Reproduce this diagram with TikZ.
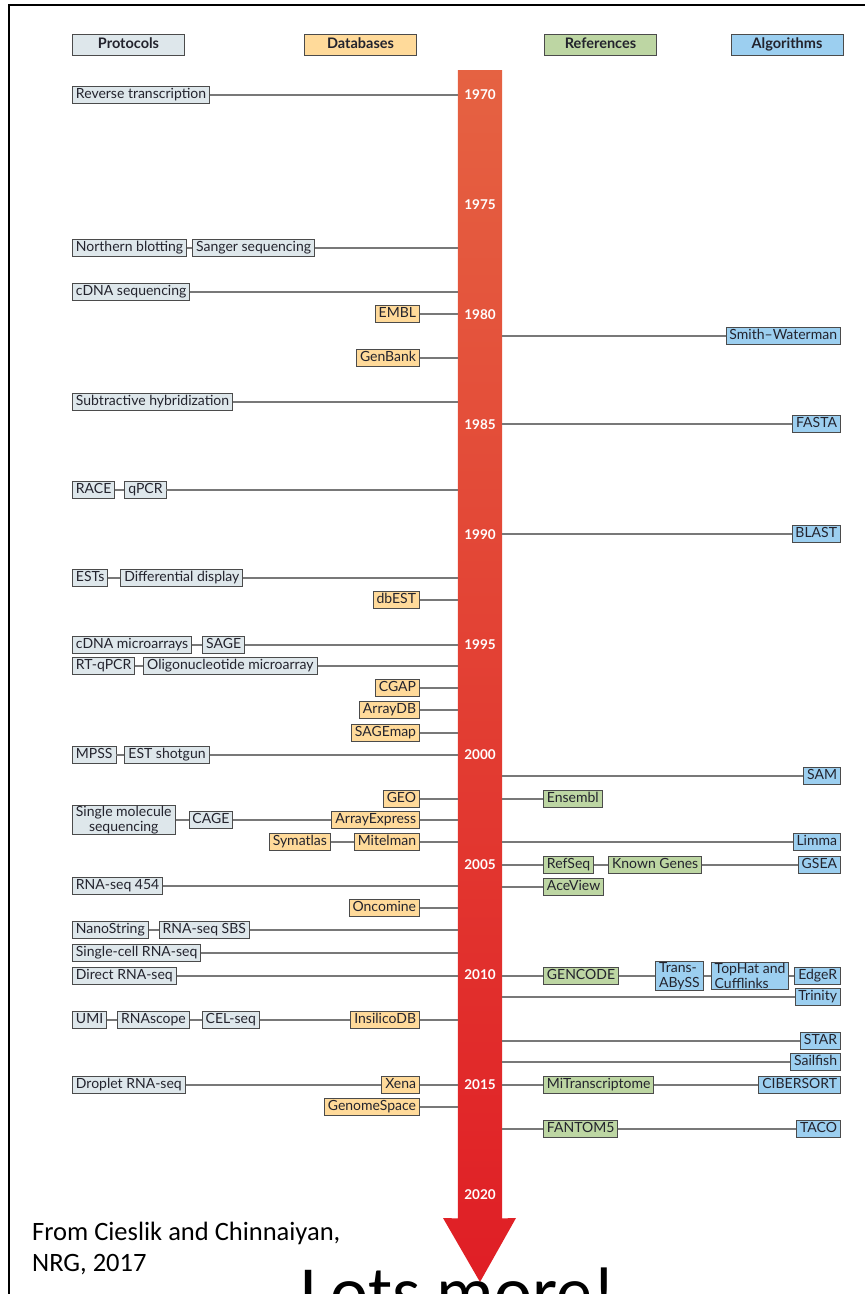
\documentclass[tikz,border=0pt]{standalone}
\usepackage{fontspec}
\setmainfont{Lato}
\newfontfamily\notefont{Carlito}
\usetikzlibrary{positioning}

\definecolor{protoFill}{RGB}{222,231,235}
\definecolor{dbFill}{RGB}{255,218,154}
\definecolor{refFill}{RGB}{189,214,163}
\definecolor{algoFill}{RGB}{156,207,240}
\definecolor{boxEdge}{RGB}{75,75,75}
\definecolor{linkGray}{RGB}{120,120,120}
\definecolor{barTop}{RGB}{229,98,66}
\definecolor{barBot}{RGB}{224,30,37}
\definecolor{inkDark}{RGB}{35,35,45}

\begin{document}
\begin{tikzpicture}[x=1pt, y=-1pt,
    box/.style={draw=boxEdge, line width=0.9pt, inner xsep=3.5pt, inner ysep=2pt, text height=10pt, text depth=3pt, text=inkDark, font=\fontsize{14}{15}\selectfont},
    proto/.style={box, fill=protoFill, anchor=west},
    db/.style={box, fill=dbFill, anchor=east},
    ref/.style={box, fill=refFill, anchor=west},
    algo/.style={box, fill=algoFill, anchor=east},
    twoline/.style={inner ysep=1pt, text height=, text depth=, font=\fontsize{14}{14.5}\selectfont},
    head/.style={box, minimum width=112pt, minimum height=21pt, font=\fontsize{14.5}{15}\selectfont\bfseries},
    yr/.style={text=white, font=\fontsize{13.5}{15}\selectfont\bfseries},
    link/.style={draw=linkGray, line width=1.3pt}]
  \useasboundingbox (0,0) rectangle (865,1294);
  \clip (0,0) rectangle (865,1294);
  \draw[line width=2pt] (9,1294) -- (9,5) -- (865,5);

  % timeline arrow
  \node[inner sep=0pt, minimum width=44pt, minimum height=1148pt, anchor=north] (bar) at (480,70) {};
  \shade[top color=barTop, bottom color=barBot]
    (bar.north west) -- (bar.north east) -- (bar.south east) -- (516,1218) -- (480,1282) -- (443,1218) -- (bar.south west) -- cycle;
  \foreach \yr in {1970,1975,...,2020}
    \node[yr] (y\yr) at (480,{95+(\yr-1970)*22}) {\yr};

  \node[head, fill=protoFill] (hproto) at (128.5,45) {Protocols};
  \node[head, fill=dbFill]    (hdb)    at (360.5,45) {Databases};
  \node[head, fill=refFill]   (href)   at (600.5,45) {References};
  \node[head, fill=algoFill]  (halgo)  at (787,45)   {Algorithms};

  % left side: protocols and databases
  \node[proto] (rt) at (72,95) {Reverse transcription};
  \node[proto] (nb) at (72,248) {Northern blotting};
  \node[proto, right=5pt of nb] (sanger) {Sanger sequencing};
  \node[proto] (cdnaseq) at (72,292) {cDNA sequencing};
  \node[db] (embl) at (420,314) {EMBL};
  \node[db] (genbank) at (420,358) {GenBank};
  \node[proto] (subhyb) at (72,402) {Subtractive hybridization};
  \node[proto] (race) at (72,490) {RACE};
  \node[proto, right=9pt of race] (qpcr) {qPCR};
  \node[proto] (ests) at (72,578) {ESTs};
  \node[proto, right=12pt of ests] (dd) {Differential display};
  \node[db] (dbest) at (420,600) {dbEST};
  \node[proto] (cdnama) at (72,645) {cDNA microarrays};
  \node[proto, right=10pt of cdnama] (sage) {SAGE};
  \node[proto] (rtqpcr) at (72,666) {RT-qPCR};
  \node[proto, right=8pt of rtqpcr] (oligo) {Oligonucleotide microarray};
  \node[db] (cgap) at (420,688) {CGAP};
  \node[db] (arraydb) at (420,710) {ArrayDB};
  \node[db] (sagemap) at (420,733) {SAGEmap};
  \node[proto] (mpss) at (72,755) {MPSS};
  \node[proto, right=8pt of mpss] (estshot) {EST shotgun};
  \node[db] (geo) at (420,799) {GEO};
  \node[proto, twoline, align=center] (smseq) at (72,820) {Single molecule\\sequencing};
  \node[proto, right=13pt of smseq] (cage) {CAGE};
  \node[db] (arrayexp) at (420,820) {ArrayExpress};
  \node[db] (mitelman) at (420,842) {Mitelman};
  \node[db, left=23pt of mitelman] (symatlas) {Symatlas};
  \node[proto] (rna454) at (72,886) {RNA-seq 454};
  \node[db] (oncomine) at (420,908) {Oncomine};
  \node[proto] (nanostring) at (72,930) {NanoString};
  \node[proto, right=10pt of nanostring] (sbs) {RNA-seq SBS};
  \node[proto] (scrna) at (72,953) {Single-cell RNA-seq};
  \node[proto] (directrna) at (72,976) {Direct RNA-seq};
  \node[proto] (umi) at (72,1020) {UMI};
  \node[proto, right=10pt of umi] (rnascope) {RNAscope};
  \node[proto, right=12pt of rnascope] (celseq) {CEL-seq};
  \node[db] (insilico) at (420,1020) {InsilicoDB};
  \node[proto] (droplet) at (72,1085) {Droplet RNA-seq};
  \node[db] (xena) at (420,1085) {Xena};
  \node[db] (genomespace) at (420,1107) {GenomeSpace};

  % right side: references and algorithms
  \node[algo] (sw) at (841,336) {Smith--Waterman};
  \node[algo] (fasta) at (841,424) {FASTA};
  \node[algo] (blast) at (841,534) {BLAST};
  \node[algo] (sam) at (841,776) {SAM};
  \node[ref] (ensembl) at (543,799) {Ensembl};
  \node[algo] (limma) at (841,842) {Limma};
  \node[ref] (refseq) at (543,865) {RefSeq};
  \node[ref, right=14pt of refseq] (knowngenes) {Known Genes};
  \node[algo] (gsea) at (841,865) {GSEA};
  \node[ref] (aceview) at (543,887) {AceView};
  \node[ref] (gencode) at (543,976) {GENCODE};
  \node[algo] (edger) at (841,976) {EdgeR};
  \node[algo, twoline, align=left, left=5pt of edger] (tophat) {TopHat and\\Cufflinks};
  \node[algo, twoline, align=left, left=7pt of tophat] (transabyss) {Trans-\\ABySS};
  \node[algo] (trinity) at (841,997) {Trinity};
  \node[algo] (star) at (841,1041) {STAR};
  \node[algo] (sailfish) at (841,1062) {Sailfish};
  \node[ref] (mitrans) at (543,1085) {MiTranscriptome};
  \node[algo] (cibersort) at (841,1085) {CIBERSORT};
  \node[ref] (fantom) at (543,1129) {FANTOM5};
  \node[algo] (taco) at (841,1129) {TACO};

  \foreach \a in {rt,cdnaseq,embl,genbank,subhyb,dbest,cgap,arraydb,sagemap,geo,mitelman,rna454,oncomine,sbs,scrna,directrna,insilico,xena,genomespace}
    \draw[link] (\a) -- (\a -| bar.west);
  \draw[link] (nb) -- (sanger) -- (sanger -| bar.west);
  \draw[link] (race) -- (qpcr) -- (qpcr -| bar.west);
  \draw[link] (ests) -- (dd) -- (dd -| bar.west);
  \draw[link] (cdnama) -- (sage) -- (sage -| bar.west);
  \draw[link] (rtqpcr) -- (oligo) -- (oligo -| bar.west);
  \draw[link] (mpss) -- (estshot) -- (estshot -| bar.west);
  \draw[link] (smseq) -- (cage) -- (arrayexp) -- (arrayexp -| bar.west);
  \draw[link] (symatlas) -- (mitelman);
  \draw[link] (nanostring) -- (sbs);
  \draw[link] (umi) -- (rnascope) -- (celseq) -- (insilico);
  \draw[link] (droplet) -- (xena);

  \foreach \a in {sw,fasta,blast,sam,ensembl,limma,aceview,trinity,star,sailfish}
    \draw[link] (bar.east |- \a) -- (\a);
  \draw[link] (bar.east |- refseq) -- (refseq) -- (knowngenes) -- (gsea);
  \draw[link] (bar.east |- gencode) -- (gencode) -- (transabyss) -- (tophat) -- (edger);
  \draw[link] (bar.east |- mitrans) -- (mitrans) -- (cibersort);
  \draw[link] (bar.east |- fantom) -- (fantom) -- (taco);

  \node[font=\notefont\fontsize{26.5}{31}\selectfont, anchor=north west, align=left, inner sep=0pt] (src) at (32,1222) {From Cieslik and Chinnaiyan,\\NRG, 2017};
  \node[font=\notefont\fontsize{72}{80}\selectfont, anchor=base west, inner sep=0pt] (more) at (300,1316) {Lots more!};
\end{tikzpicture}
\end{document}
